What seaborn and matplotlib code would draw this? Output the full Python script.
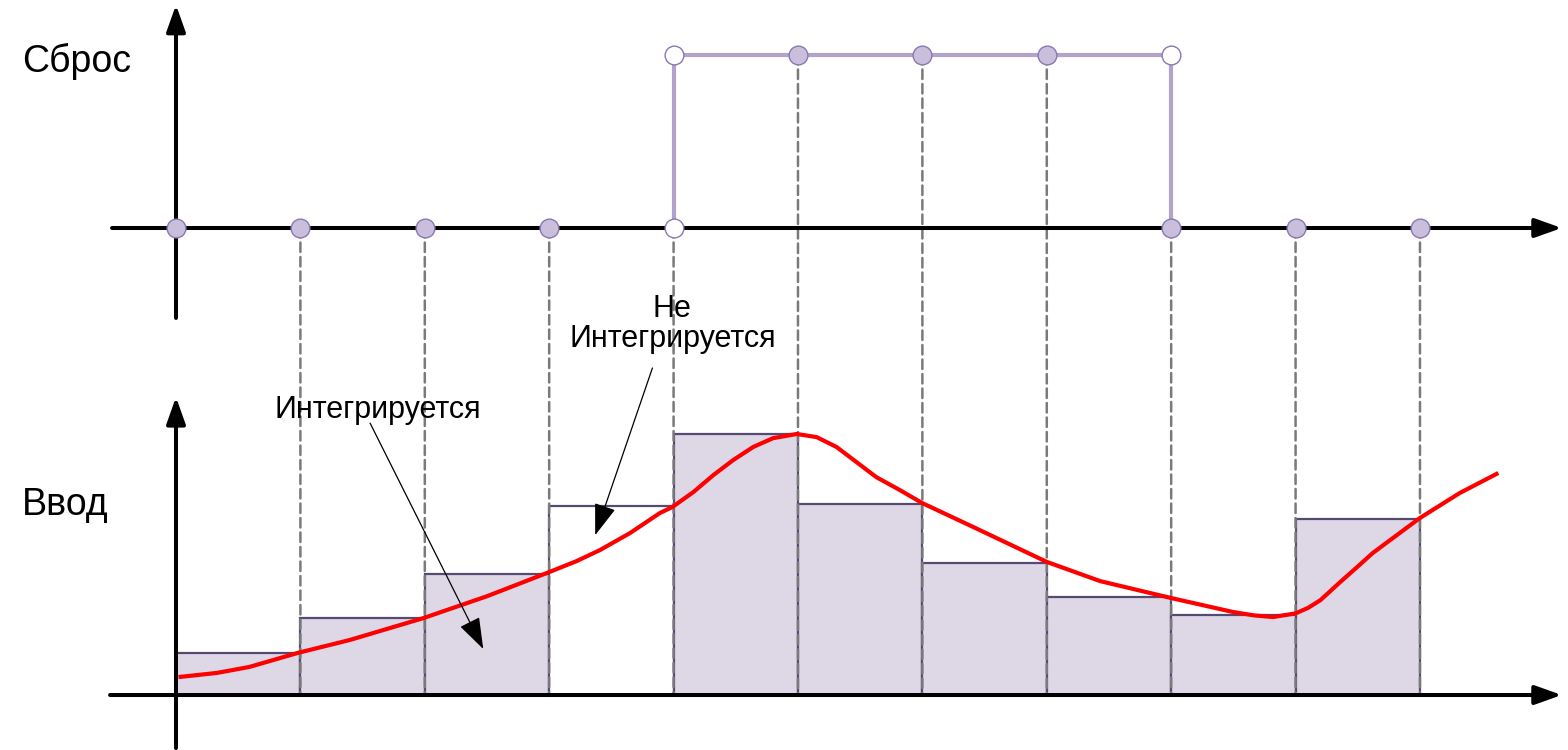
import matplotlib
matplotlib.use("Agg")
import matplotlib.pyplot as plt
import seaborn as sns
import pandas as pd
from matplotlib.patches import ConnectionPatch

# ---------------- data ----------------
sample_t = list(range(11))
reset_level = [0, 0, 0, 0, 0, 1, 1, 1, 0, 0, 0]
reset_open = [False, False, False, False, True, False, False, False, False, False, False]
edge_open_t = [4, 8]
edge_open_v = [1, 1]
step_t = [4, 4, 8, 8]
step_v = [0, 1, 1, 0]

bar_start = [0, 1, 2, 3, 4, 5, 6, 7, 8, 9]
bar_value = [1.62, 2.96, 4.65, 7.27, 10.04, 7.35, 5.08, 3.77, 3.08, 6.77]
bar_integrated = [True, True, True, False, True, True, True, True, True, True]

curve_t = [0.02, 0.33, 0.59, 0.98, 1.40, 1.99, 2.50, 2.98, 3.22, 3.41, 3.65, 3.89,
           3.99, 4.16, 4.32, 4.48, 4.64, 4.80, 4.99, 5.15, 5.31, 5.47, 5.63, 5.82,
           6.00, 6.41, 7.00, 7.43, 8.00, 8.50, 8.67, 8.82, 9.00, 9.10, 9.20, 9.36,
           9.49, 9.62, 9.80, 10.00, 10.32, 10.63]
curve_v = [0.69, 0.85, 1.08, 1.62, 2.12, 2.96, 3.80, 4.69, 5.15, 5.58, 6.23, 7.00,
           7.23, 7.81, 8.46, 9.04, 9.54, 9.88, 10.04, 9.92, 9.54, 8.96, 8.38, 7.88,
           7.38, 6.46, 5.12, 4.38, 3.73, 3.19, 3.06, 3.00, 3.14, 3.35, 3.65, 4.35,
           4.90, 5.46, 6.10, 6.81, 7.77, 8.54]

label_reset = "Сброс"
label_input = "Ввод"
label_int = "Интегрируется"
label_noint = "Не\nИнтегрируется"

# ---------------- style ----------------
sns.set_theme(style="white")
plt.rcParams["font.family"] = ["Liberation Sans", "DejaVu Sans"]

FILL = "#ddd7e6"
BAR_EDGE = "#574a72"
MK_FILL = "#c9bedb"
MK_EDGE = "#8a78b0"
STEP = "#b3a2cc"
DASH = "#7a7a7a"

fig = plt.figure(figsize=(15.68, 7.5), dpi=100)
XL = (-1.4148, 11.19)
ax_bot = fig.add_axes([0, 0, 1, 420 / 750])
ax_top = fig.add_axes([0, 420 / 750, 1, 330 / 750])
for a in (ax_bot, ax_top):
    a.set_xlim(*XL)
    a.axis("off")
ax_bot.set_ylim(-2.115, 14.04)
ax_top.set_ylim(-0.5896, 1.3179)

# ---------------- bottom: input ----------------
faces = [FILL if f else "white" for f in bar_integrated]
ax_bot.bar(bar_start, bar_value, width=1.0, align="edge", color=faces,
           edgecolor=BAR_EDGE, linewidth=1.6, zorder=1)

df_curve = pd.DataFrame({"t": curve_t, "v": curve_v})
sns.lineplot(data=df_curve, x="t", y="v", sort=False, estimator=None,
             color="#ff0000", linewidth=3.0, ax=ax_bot, zorder=3)
for ln in ax_bot.get_lines():
    ln.set_solid_joinstyle("round")
    ln.set_solid_capstyle("butt")

axis_arrow = dict(arrowstyle="-|>,head_length=0.9,head_width=0.32", color="black",
                  lw=2.9, mutation_scale=18, shrinkA=0, shrinkB=0)
ax_bot.annotate("", xy=(11.14, 0), xytext=(-0.53, 0), arrowprops=axis_arrow, zorder=5)
ax_bot.annotate("", xy=(0, 11.46), xytext=(0, -2.04), arrowprops=axis_arrow, zorder=5)

thin_arrow = dict(arrowstyle="-|>,head_length=1.1,head_width=0.38", color="black",
                  lw=0.9, mutation_scale=18, shrinkA=0, shrinkB=0)
ax_bot.annotate("", xy=(2.47, 1.77), xytext=(1.56, 10.46), arrowprops=thin_arrow, zorder=6)
ax_bot.annotate("", xy=(3.37, 6.15), xytext=(3.83, 12.58), arrowprops=thin_arrow, zorder=6)

ax_bot.text(1.62, 10.96, label_int, ha="center", va="center", fontsize=22,
            color="black")
ax_bot.text(3.99, 14.27, label_noint, ha="center", va="center", fontsize=22,
            color="black", linespacing=1.0)
ax_bot.text(-1.238, 7.31, label_input, ha="left", va="center", fontsize=27,
            color="black")

# dashed guide lines from the reset samples down to the input axis
for t, lv in zip(sample_t[1:], reset_level[1:]):
    con = ConnectionPatch(xyA=(t, lv), coordsA=ax_top.transData,
                          xyB=(t, 0), coordsB=ax_bot.transData,
                          color=DASH, lw=1.8, linestyle=(0, (3.8, 2.0)),
                          zorder=2, clip_on=False)
    ax_bot.add_artist(con)

# ---------------- top: reset ----------------
ax_top.annotate("", xy=(11.14, 0), xytext=(-0.514, 0), arrowprops=axis_arrow, zorder=2)
ax_top.annotate("", xy=(0, 1.29), xytext=(0, -0.52), arrowprops=axis_arrow, zorder=2)

sns.lineplot(x=step_t, y=step_v, sort=False, estimator=None, color=STEP,
             linewidth=3.0, ax=ax_top, zorder=3)

filled_t = [t for t, o in zip(sample_t, reset_open) if not o]
filled_v = [v for v, o in zip(reset_level, reset_open) if not o]
open_t = [t for t, o in zip(sample_t, reset_open) if o] + edge_open_t
open_v = [v for v, o in zip(reset_level, reset_open) if o] + edge_open_v

ax_top.plot(filled_t, filled_v, linestyle="none", marker="o", markersize=13.5,
            markerfacecolor=MK_FILL, markeredgecolor=MK_EDGE, markeredgewidth=1.0,
            zorder=5, clip_on=False)
ax_top.plot(open_t, open_v, linestyle="none", marker="o", markersize=13.5,
            markerfacecolor="white", markeredgecolor=MK_EDGE, markeredgewidth=1.0,
            zorder=5, clip_on=False)

ax_top.text(-1.238, 0.96, label_reset, ha="left", va="center", fontsize=27,
            color="black")

fig.savefig("out.png", dpi=100)
